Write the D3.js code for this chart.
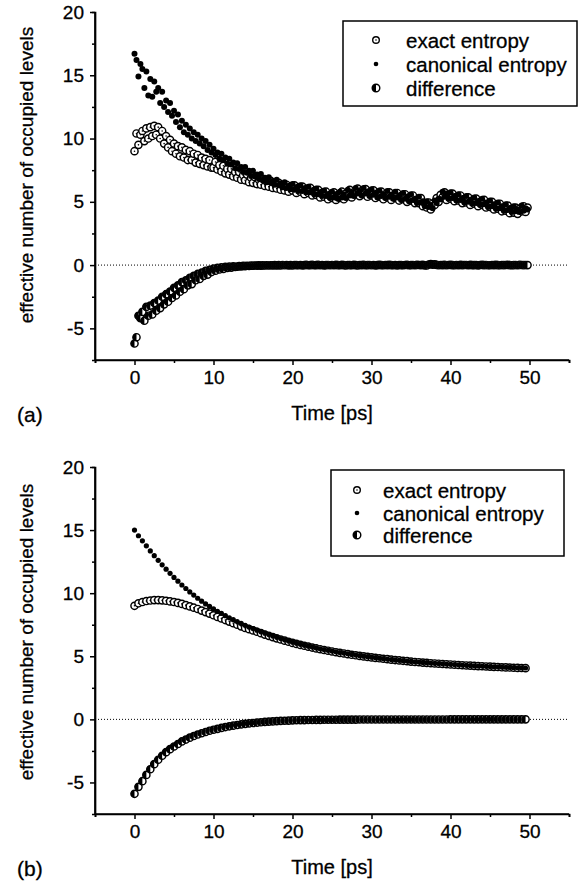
<!DOCTYPE html>
<html>
<head>
<meta charset="utf-8">
<script src="https://cdn.jsdelivr.net/npm/d3@7"></script>
<style>
  body { margin: 0; background: #fff; }
  text { font-family: "Liberation Sans", Arial, sans-serif; fill: #000; stroke: #000; stroke-width: 0.3; }
</style>
</head>
<body>
<script>
const width = 583;
const height = 884;

// sampling steps (ps) of the two runs
const stepA = 0.25;
const stepB = 0.5;

// panel (a): one group = 1 ps (4 samples)
const canonicalA = [
  16.7, 16.2, 14.9, 15.9,  15.5, 14.0, 15.3, 13.4,  14.7, 13.3, 14.5, 13.7,  14.0, 12.8, 13.7, 12.5,
  13.0, 12.1, 12.8, 11.8,  12.2, 11.3, 11.9, 10.9,  11.4, 10.5, 11.1, 10.3,  10.8, 10.0, 10.5, 9.8,
  10.3, 9.6, 10.0, 9.4,    9.8, 9.1, 9.5, 8.9,      9.2, 8.7, 8.9, 8.4,      8.8, 8.3, 8.5, 8.0,
  8.4, 7.95, 8.1, 7.65,    8.05, 7.6, 7.75, 7.35,   7.75, 7.3, 7.45, 7.05,   7.45, 7.0, 7.15, 6.8,
  7.2, 6.75, 6.9, 6.55,    6.95, 6.5, 6.65, 6.35,   6.75, 6.3, 6.45, 6.15,   6.55, 6.1, 6.25, 6.0,
  6.4, 5.95, 6.15, 5.85,   6.3, 5.85, 6.05, 5.75,   6.2, 5.75, 5.9, 5.6,     6.05, 5.6, 5.75, 5.45,
  5.9, 5.45, 5.6, 5.3,     5.8, 5.35, 5.55, 5.25,   5.8, 5.35, 5.6, 5.3,     5.95, 5.5, 5.75, 5.45,
  6.1, 5.65, 5.85, 5.5,    6.1, 5.65, 5.8, 5.45,    6.0, 5.55, 5.7, 5.35,    5.9, 5.45, 5.6, 5.3,
  5.85, 5.4, 5.55, 5.25,   5.8, 5.35, 5.5, 5.15,    5.7, 5.25, 5.4, 5.05,    5.6, 5.15, 5.25, 4.9,
  5.4, 4.95, 5.05, 4.65,   5.05, 4.6, 4.75, 4.5,    5.1, 4.9, 5.25, 5.2,     5.8, 5.4, 5.65, 5.25,
  5.75, 5.3, 5.45, 5.1,    5.6, 5.15, 5.3, 4.95,    5.45, 5.0, 5.15, 4.85,   5.35, 4.9, 5.05, 4.75,
  5.25, 4.8, 4.95, 4.6,    5.1, 4.65, 4.8, 4.45,    4.95, 4.5, 4.65, 4.3,    4.8, 4.35, 4.5, 4.2,
  4.65, 4.25, 4.4, 4.2,    4.7, 4.3, 4.5, 4.4
];

const exactA = [
  9.0, 10.4, 9.5, 10.3,    10.6, 9.8, 10.8, 10.0,   10.9, 10.2, 11.0, 10.3,  10.9, 10.0, 10.6, 9.6,
  10.2, 9.3, 9.9, 9.0,     9.6, 8.8, 9.4, 8.6,      9.3, 8.5, 9.1, 8.3,      9.0, 8.3, 8.8, 8.1,
  8.7, 8.0, 8.5, 7.9,      8.4, 7.8, 8.3, 7.7,      7.7, 8.15, 7.55, 7.9,    7.4, 7.85, 7.25, 7.6,
  7.15, 7.6, 7.0, 7.35,    6.9, 7.35, 6.75, 7.1,    6.7, 7.15, 6.55, 6.9,    6.5, 6.95, 6.4, 6.75,
  6.35, 6.8, 6.25, 6.6,    6.2, 6.65, 6.1, 6.45,    6.05, 6.5, 5.95, 6.3,    5.9, 6.35, 5.8, 6.2,
  5.9, 6.3, 5.7, 6.1,      5.8, 6.2, 5.6, 6.0,      5.7, 6.1, 5.5, 5.85,     5.55, 5.95, 5.35, 5.7,
  5.4, 5.8, 5.2, 5.55,     5.3, 5.75, 5.15, 5.55,   5.3, 5.8, 5.2, 5.65,     5.45, 5.95, 5.35, 5.75,
  5.6, 6.05, 5.45, 5.85,   5.6, 6.0, 5.4, 5.75,     5.5, 5.9, 5.3, 5.65,     5.4, 5.8, 5.2, 5.6,
  5.35, 5.75, 5.15, 5.5,   5.3, 5.7, 5.1, 5.45,     5.2, 5.6, 5.0, 5.35,     5.1, 5.5, 4.9, 5.15,
  4.9, 5.3, 4.65, 4.9,     4.55, 4.95, 4.4, 4.85,   4.75, 5.3, 5.0, 5.55,    5.35, 5.75, 5.15, 5.5,
  5.25, 5.65, 5.05, 5.35,  5.1, 5.5, 4.9, 5.2,      4.95, 5.35, 4.75, 5.1,   4.85, 5.25, 4.65, 5.0,
  4.75, 5.15, 4.55, 4.85,  4.6, 5.0, 4.4, 4.7,      4.45, 4.85, 4.25, 4.55,  4.3, 4.7, 4.1, 4.45,
  4.15, 4.55, 4.05, 4.45,  4.25, 4.65, 4.2, 4.55
];

const differenceA = [
  -6.2, -5.7, -4.0, -4.2,  -3.7, -4.4, -3.3, -4.0,  -3.2, -3.9, -3.0, -3.6,  -2.8, -3.4, -2.5, -3.1,
  -2.3, -2.9, -2.1, -2.6,  -1.8, -2.4, -1.6, -2.1,  -1.35, -1.9, -1.2, -1.6, -1.0, -1.5, -0.85, -1.2,
  -0.7, -1.1, -0.6, -0.85, -0.45, -0.75, -0.38, -0.55, -0.28, -0.45, -0.22, -0.35, -0.18, -0.3, -0.14, -0.22,
  -0.12, -0.2, -0.1, -0.15, -0.12, -0.08, -0.1, -0.06, -0.08, -0.05, -0.07, -0.04, -0.05, -0.03, -0.04, -0.02,
  -0.04, -0.02, -0.03, -0.01, -0.03, -0.01, -0.02, 0.0, -0.02, 0.0, -0.02, 0.01, -0.01, 0.01, -0.02, 0.0,
  -0.02, 0.01, 0.0, -0.01,  0.01, -0.02, 0.0, 0.02,  -0.01, 0.0, 0.02, -0.01,  0.0, 0.02, -0.01, 0.01,
  -0.02, 0.0, 0.01, -0.01,  0.01, -0.01, 0.02, 0.0,  -0.01, 0.02, 0.0, -0.02,  0.01, 0.0, -0.01, 0.02,
  0.0, -0.02, 0.01, 0.0,    0.02, -0.01, 0.0, 0.01,  -0.01, 0.01, -0.02, 0.0,  0.02, 0.0, -0.01, 0.01,
  0.0, 0.02, 0.0, -0.01,    0.01, -0.02, 0.01, 0.0,  -0.01, 0.01, 0.02, -0.01, 0.0, 0.01, -0.01, 0.02,
  0.01, 0.0, 0.02, -0.02,   -0.03, 0.05, 0.08, 0.04, 0.06, 0.02, -0.01, 0.01, 0.0, 0.02, -0.01, 0.01,
  0.02, 0.0, -0.01, 0.01,   -0.01, 0.02, 0.0, 0.01,  0.01, -0.01, 0.02, 0.0,  0.0, 0.01, -0.02, 0.01,
  0.02, 0.0, 0.01, -0.01,   -0.01, 0.01, 0.0, 0.02,  0.0, -0.01, 0.01, 0.0,  0.01, 0.02, 0.0, -0.01,
  0.0, 0.01, -0.01, 0.02,   0.01, 0.0, 0.01, 0.0
];

// panel (b): one row = 5 ps (10 samples)
const canonicalB = [
  15.0, 14.55, 14.15, 13.75, 13.35, 12.97, 12.6, 12.25, 11.9, 11.57,
  11.25, 10.95, 10.65, 10.37, 10.1, 9.85, 9.6, 9.37, 9.15, 8.95,
  8.75, 8.57, 8.4, 8.22, 8.05, 7.9, 7.75, 7.6, 7.45, 7.32,
  7.2, 7.07, 6.95, 6.83, 6.72, 6.61, 6.5, 6.4, 6.3, 6.21,
  6.12, 6.03, 5.95, 5.87, 5.8, 5.73, 5.66, 5.59, 5.53, 5.47,
  5.41, 5.35, 5.3, 5.25, 5.2, 5.15, 5.1, 5.05, 5.01, 4.97,
  4.93, 4.89, 4.85, 4.81, 4.78, 4.74, 4.71, 4.68, 4.65, 4.62,
  4.59, 4.56, 4.54, 4.51, 4.49, 4.46, 4.44, 4.42, 4.4, 4.38,
  4.36, 4.34, 4.32, 4.3, 4.28, 4.27, 4.25, 4.23, 4.22, 4.2,
  4.19, 4.17, 4.16, 4.14, 4.13, 4.12, 4.1, 4.09, 4.08, 4.07
];

const exactB = [
  9.0, 9.2, 9.3, 9.38, 9.42, 9.45, 9.45, 9.43, 9.4, 9.35,
  9.3, 9.23, 9.15, 9.05, 8.95, 8.85, 8.75, 8.62, 8.5, 8.38,
  8.25, 8.12, 8.0, 7.87, 7.75, 7.62, 7.5, 7.37, 7.25, 7.15,
  7.05, 6.94, 6.83, 6.72, 6.62, 6.52, 6.42, 6.33, 6.24, 6.15,
  6.06, 5.98, 5.9, 5.83, 5.76, 5.69, 5.62, 5.56, 5.5, 5.44,
  5.38, 5.32, 5.27, 5.22, 5.17, 5.12, 5.08, 5.03, 4.99, 4.95,
  4.91, 4.87, 4.84, 4.8, 4.77, 4.73, 4.7, 4.67, 4.64, 4.61,
  4.58, 4.55, 4.53, 4.5, 4.48, 4.45, 4.43, 4.41, 4.39, 4.37,
  4.35, 4.33, 4.31, 4.29, 4.27, 4.26, 4.24, 4.22, 4.21, 4.19,
  4.18, 4.16, 4.15, 4.13, 4.12, 4.11, 4.09, 4.08, 4.07, 4.06
];

const differenceB = [
  -5.9, -5.35, -4.9, -4.4, -3.95, -3.55, -3.2, -2.88, -2.6, -2.36,
  -2.15, -1.95, -1.75, -1.6, -1.45, -1.32, -1.2, -1.1, -1.0, -0.9,
  -0.82, -0.75, -0.68, -0.61, -0.55, -0.5, -0.45, -0.4, -0.36, -0.32,
  -0.29, -0.26, -0.23, -0.2, -0.18, -0.16, -0.14, -0.12, -0.11, -0.1,
  -0.08, -0.07, -0.06, -0.06, -0.05, -0.05, -0.04, -0.04, -0.03, -0.03,
  -0.03, -0.03, -0.02, -0.02, -0.02, -0.02, -0.02, -0.01, -0.01, -0.01,
  -0.01, -0.01, -0.01, -0.01, -0.01, -0.01, -0.01, -0.01, -0.01, -0.01,
  -0.01, -0.01, -0.01, -0.01, -0.01, -0.01, -0.01, -0.01, -0.01, -0.01,
  0, 0, 0, 0, 0, 0, 0, 0, 0, 0,
  0, 0, 0, 0, 0, 0, 0, 0, 0, 0
];

const xTicks = [0, 10, 20, 30, 40, 50];
const xMinor = [-5, 5, 15, 25, 35, 45, 55];
const yTicks = [-5, 0, 5, 10, 15, 20];
const yMinor = [-2.5, 2.5, 7.5, 12.5, 17.5];
const legendLabels = ['exact entropy', 'canonical entropy', 'difference'];

const svg = d3.select('body')
  .append('svg')
  .attr('width', width)
  .attr('height', height);

function halfPath(r) {
  // left half of a circle
  return `M0,${-r}A${r},${r} 0 0 0 0,${r}Z`;
}

function drawExact(g, px, py, r, sw) {
  g.append('circle').attr('cx', px).attr('cy', py).attr('r', r)
    .attr('fill', '#fff').attr('stroke', '#000').attr('stroke-width', sw);
  g.append('circle').attr('cx', px).attr('cy', py).attr('r', 0.8).attr('fill', '#000');
}

function drawDiff(g, px, py, r, sw) {
  g.append('circle').attr('cx', px).attr('cy', py).attr('r', r)
    .attr('fill', '#fff').attr('stroke', '#000').attr('stroke-width', sw);
  g.append('path').attr('transform', `translate(${px},${py})`)
    .attr('d', halfPath(r)).attr('fill', '#000');
}

function panel(p) {
  const g = svg.append('g');
  const x = d3.scaleLinear().domain([-5, 55]).range([95, 569]);
  const y = d3.scaleLinear().domain([-7.5, 20]).range([p.bottom, p.top]);

  const times = p.exact.map((d, i) => i * p.step);

  // zero line
  g.append('line')
    .attr('x1', x(-5)).attr('x2', x(55))
    .attr('y1', y(0)).attr('y2', y(0))
    .attr('stroke', '#000').attr('stroke-width', 1)
    .attr('stroke-dasharray', '1,2');

  const marks = g.append('g');
  p.exact.forEach((v, i) => drawExact(marks, x(times[i]), y(v), p.r, 1.45));
  marks.selectAll('.can')
    .data(p.canonical)
    .enter().append('circle')
    .attr('class', 'can')
    .attr('cx', (d, i) => x(times[i]))
    .attr('cy', d => y(d))
    .attr('r', p.dot)
    .attr('fill', '#000');
  p.difference.forEach((v, i) => drawDiff(marks, x(times[i]), y(v), p.r, 1.45));

  // axes
  const fmt = d => String(d);
  const xAxis = g.append('g').attr('transform', `translate(0,${p.bottom})`)
    .call(d3.axisBottom(x).tickValues(xTicks).tickSize(5).tickPadding(6).tickFormat(fmt));
  g.append('g').attr('transform', `translate(0,${p.bottom})`)
    .call(d3.axisBottom(x).tickValues(xMinor).tickSize(3).tickFormat(''));
  const yAxis = g.append('g').attr('transform', 'translate(95,0)')
    .call(d3.axisLeft(y).tickValues(yTicks).tickSize(5).tickPadding(6).tickFormat(fmt));
  g.append('g').attr('transform', 'translate(95,0)')
    .call(d3.axisLeft(y).tickValues(yMinor).tickSize(3).tickFormat(''));

  g.selectAll('.domain').attr('stroke', '#000').attr('stroke-width', 1.7);
  g.selectAll('.tick line').attr('stroke', '#000').attr('stroke-width', 1.5);
  g.selectAll('.tick text').attr('font-size', 19).attr('font-family', '"Liberation Sans", Arial, sans-serif');
  xAxis.select('.domain').attr('d', `M${x(-5)},0H${x(55)}`);
  yAxis.select('.domain').attr('d', `M0,${y(20)}V${y(-7.5)}`);

  // titles
  g.append('text')
    .attr('transform', `translate(26,${p.yTitleCenter}) rotate(-90)`)
    .attr('text-anchor', 'middle')
    .attr('dominant-baseline', 'central')
    .attr('font-size', 19)
    .text('effective number of occupied levels');
  g.append('text')
    .attr('x', 332).attr('y', p.bottom + 60)
    .attr('text-anchor', 'middle')
    .attr('font-size', 20)
    .text('Time [ps]');
  g.append('text')
    .attr('x', 17).attr('y', p.bottom + 62)
    .attr('font-size', 21)
    .text(p.tag);

  // legend
  const L = p.legend;
  g.append('rect')
    .attr('x', L.x).attr('y', L.y).attr('width', L.w).attr('height', L.h)
    .attr('fill', '#fff').attr('stroke', '#000').attr('stroke-width', 1.5);
  legendLabels.forEach((lab, i) => {
    const cy = L.rows[i];
    if (i === 0) drawExact(g, L.mx, cy, 3.3, 1.4);
    if (i === 1) g.append('circle').attr('cx', L.mx).attr('cy', cy).attr('r', 2.3).attr('fill', '#000');
    if (i === 2) drawDiff(g, L.mx, cy, 3.8, 1.4);
    g.append('text')
      .attr('x', L.tx).attr('y', cy)
      .attr('dominant-baseline', 'central')
      .attr('font-size', 20.5)
      .text(lab);
  });
}

panel({
  top: 12, bottom: 360, step: stepA, tag: '(a)', yTitleCenter: 175, r: 3.6, dot: 3.0,
  exact: exactA, canonical: canonicalA, difference: differenceA,
  legend: { x: 343, y: 21, w: 234, h: 85, mx: 376, tx: 406, rows: [40, 64, 88] }
});

panel({
  top: 467, bottom: 814, step: stepB, tag: '(b)', yTitleCenter: 632, r: 3.6, dot: 2.6,
  exact: exactB, canonical: canonicalB, difference: differenceB,
  legend: { x: 331, y: 470, w: 233, h: 86, mx: 357, tx: 383, rows: [490, 513, 535] }
});
</script>
</body>
</html>
